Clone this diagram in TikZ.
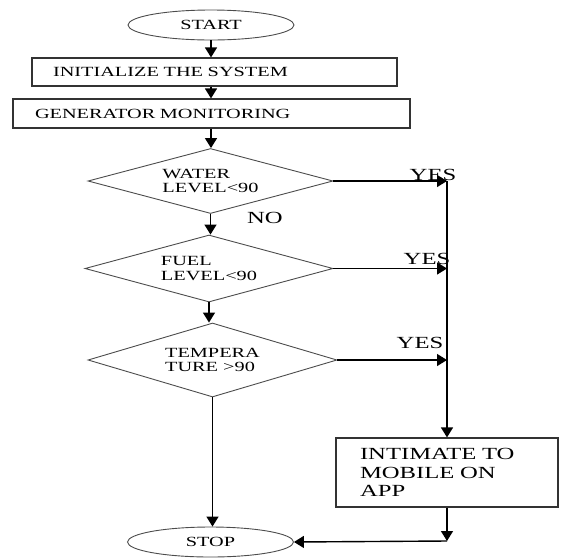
\documentclass[tikz,border=0pt]{standalone}
\usepackage{fontspec}
\setmainfont[FakeStretch=1.45]{Liberation Serif}
\usetikzlibrary{shapes.geometric,arrows.meta}

\begin{document}
\begin{tikzpicture}[x=1pt, y=-1pt,
  arrow/.style={line width=1.4pt, -{Triangle[length=10pt,width=12pt]}},
  terminal/.style={ellipse, draw=black!70, line width=0.9pt, inner sep=0pt, minimum width=166pt, minimum height=30pt, font=\fontsize{14}{15}\selectfont},
  stepbox/.style={rectangle, draw=black!80, line width=1.2pt, inner ysep=0pt, align=left, font=\fontsize{14}{15}\selectfont},
  decision/.style={diamond, aspect=3.75, draw=black!70, line width=0.9pt, inner sep=0pt, align=left, font=\fontsize{14}{14.5}\selectfont},
  answer/.style={inner sep=0pt, font=\fontsize{17}{18}\selectfont}]
	\useasboundingbox (0,0) rectangle (562,558);

	% main column
	\node[terminal] (start) at (211,25) {START};
	\node[stepbox, inner xsep=21pt, text width=323pt, minimum height=28pt] (init) at (214.5,72) {INITIALIZE THE SYSTEM};
	\node[stepbox, inner xsep=22pt, text width=353pt, minimum height=29pt] (gen) at (211.5,113.5) {GENERATOR MONITORING};
	\node[decision, minimum width=245pt, minimum height=65pt] (water) at (210.5,181) {WATER\\LEVEL<90};
	\node[decision, minimum width=248pt, minimum height=67pt] (fuel) at (209,268.5) {FUEL\\LEVEL<90};
	\node[decision, minimum width=249pt, minimum height=74pt] (temp) at (212.5,360) {TEMPERA\\TURE >90};
	\node[terminal] (stop) at (210.5,542) {STOP};

	% alert branch
	\node[stepbox, inner xsep=24pt, text width=174pt, minimum height=69pt, font=\fontsize{17}{18.5}\selectfont] (intimate) at (447,472.5) {INTIMATE TO\\MOBILE ON\\APP};
	\coordinate (yesline) at (447,181);
	\coordinate (corner) at (447,541);

	\draw[arrow] (start.south) -- (start.south |- init.north);
	\draw[arrow] (init.south -| start.south) -- (start.south |- gen.north);
	\draw[arrow] (gen.south -| start.south) -- (start.south |- water.north);
	\draw[arrow] (water.south) -- (water.south |- fuel.north);
	\draw[arrow] (fuel.south) -- (fuel.south |- temp.north);
	\draw[arrow] (temp.south) -- (temp.south |- stop.north);

	\draw[arrow] (water.east) -- (yesline);
	\draw[arrow] (fuel.east) -- (fuel.east -| yesline);
	\draw[arrow] (temp.east) -- (temp.east -| yesline);
	\draw[arrow] (yesline) -- (intimate.north);
	\draw[arrow] (intimate.south) -- (corner);
	\draw[arrow] (corner) -- (stop.east);

	\node[answer] (yes1) at (433,175) {YES};
	\node[answer] (yes2) at (427,259) {YES};
	\node[answer] (yes3) at (420,343) {YES};
	\node[answer] (no1) at (265,218) {NO};
\end{tikzpicture}
\end{document}
